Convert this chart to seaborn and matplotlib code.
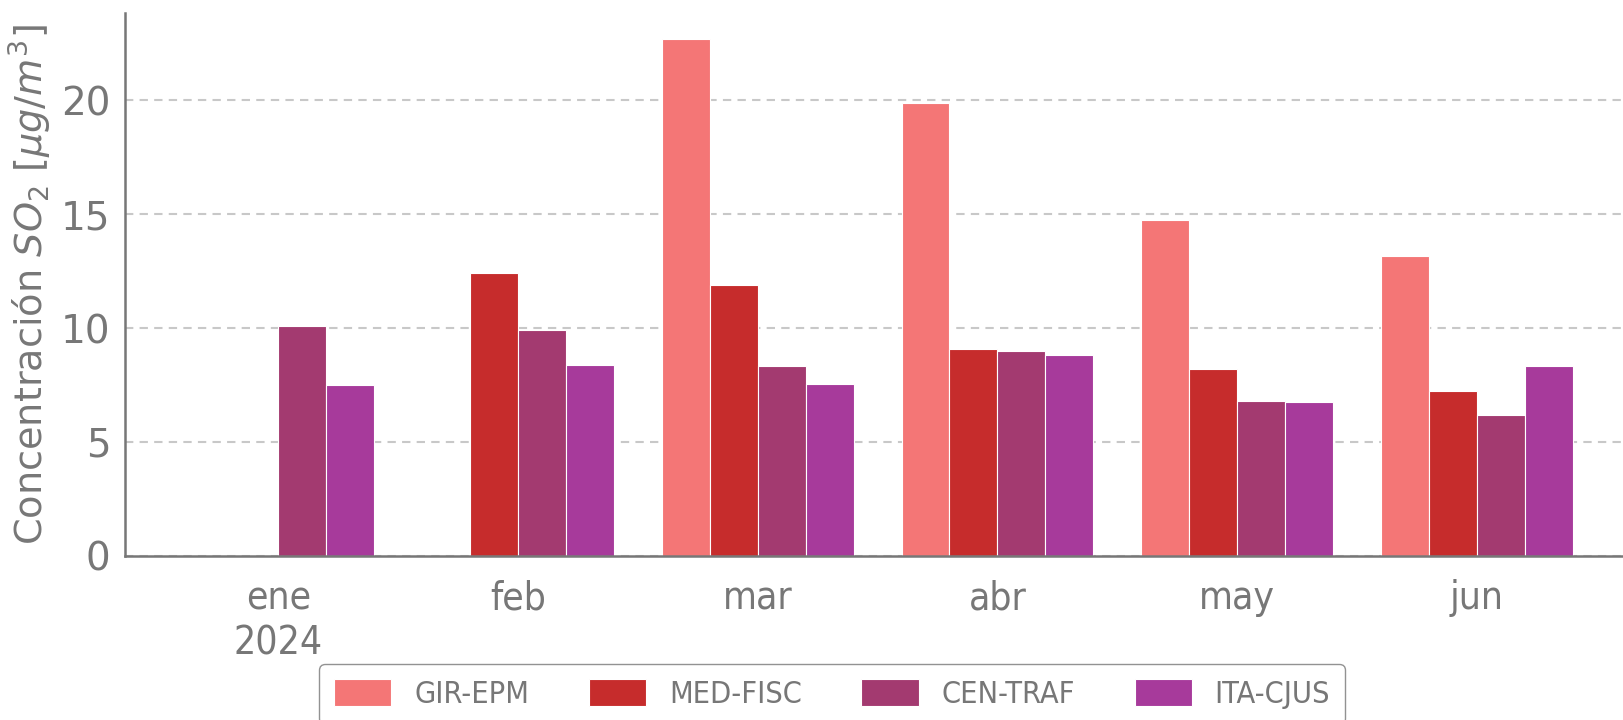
import numpy as np
import pandas as pd
import matplotlib
matplotlib.use("Agg")
import matplotlib.pyplot as plt
from matplotlib.font_manager import FontProperties
import seaborn as sns

# data
months = ["ene\n2024", "feb", "mar", "abr", "may", "jun"]
stations = ["GIR-EPM", "MED-FISC", "CEN-TRAF", "ITA-CJUS"]
gir_epm = [np.nan, np.nan, 22.7, 19.9, 14.75, 13.15]
med_fisc = [np.nan, 12.4, 11.9, 9.1, 8.2, 7.25]
cen_traf = [10.1, 9.9, 8.35, 9.0, 6.8, 6.2]
ita_cjus = [7.5, 8.4, 7.55, 8.8, 6.75, 8.35]
colors = ["#F47676", "#C62C2C", "#A33A70", "#A73A9B"]

df = pd.DataFrame({
    "mes": months * 4,
    "estacion": np.repeat(stations, len(months)),
    "valor": gir_epm + med_fisc + cen_traf + ita_cjus,
})

sns.set_style("white")
grey = "#777777"
plt.rcParams["font.family"] = ["DejaVu Sans"]
plt.rcParams["mathtext.fontset"] = "dejavusans"
plt.rcParams["text.color"] = grey
plt.rcParams["axes.labelcolor"] = grey
plt.rcParams["xtick.color"] = grey
plt.rcParams["ytick.color"] = grey

narrow = FontProperties(family="DejaVu Sans", stretch="condensed", size=28)
narrow_leg = FontProperties(family="DejaVu Sans", stretch="condensed", size=22)

fig, ax = plt.subplots(figsize=(16.23, 7.2), dpi=100)
fig.subplots_adjust(left=0.077, right=1.0, bottom=0.228, top=0.982)

sns.barplot(data=df, x="mes", y="valor", hue="estacion", order=months,
            hue_order=stations, palette=colors, saturation=1, errorbar=None,
            width=0.8, edgecolor="white", linewidth=0.8, ax=ax)

ax.set_xlim(-0.64, 5.61)
ax.set_yticks([0, 5, 10, 15, 20])
ax.yaxis.grid(True, linestyle="--", color="#c8c8c8", linewidth=1.5, dashes=(4, 3))
ax.set_axisbelow(True)
for side in ["top", "right"]:
    ax.spines[side].set_visible(False)
for side in ["left", "bottom"]:
    ax.spines[side].set_color(grey)
    ax.spines[side].set_linewidth(1.8)
ax.tick_params(axis="y", labelsize=28, length=7, width=1.8, color=grey)
ax.tick_params(axis="x", length=7, width=1.8, color=grey, pad=10)
for lab in ax.get_xticklabels():
    lab.set_fontproperties(narrow)
    lab.set_linespacing(1.25)
ax.set_xlabel("")
ax.set_ylabel(r"Concentración $SO_2$ [$\mu g/m^3$]", fontsize=27.5, labelpad=5)

handles, labels = ax.get_legend_handles_labels()
ax.get_legend().remove()
fig.legend(handles, labels, loc="upper left", bbox_to_anchor=(0.1966, 0.078),
           ncol=4, prop=narrow_leg, frameon=True, edgecolor=grey,
           handlelength=1.87, handleheight=1.0, handletextpad=0.75,
           columnspacing=1.95, borderpad=0.5, borderaxespad=0)

fig.savefig("out.png", dpi=100)
